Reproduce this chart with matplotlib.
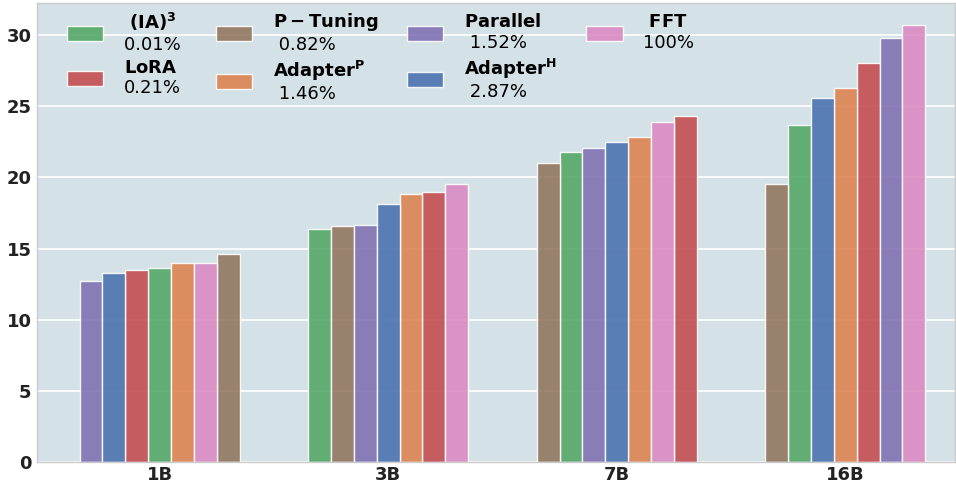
import matplotlib
matplotlib.use('Agg')
import matplotlib.pyplot as plt
import numpy as np

groups = ['1B', '3B', '7B', '16B']

# method name, trainable params, colour
names = [r' $\mathbf{(IA)^3}$', r'$\mathbf{LoRA}$', r'$\mathbf{P-Tuning}$',
         r'$\mathbf{Adapter^P}$', r'$\mathbf{Parallel}$', r'$\mathbf{Adapter^H}$',
         r' $\mathbf{FFT}$']
params = ['0.01% ', '0.21%', ' 0.82%', ' 1.46%', ' 1.52%', ' 2.87%', '100%']
colors = ['#55a868', '#c44e52', '#937860', '#dd8452', '#8172b3', '#4c72b0', '#da8bc3']

ia3 = [13.6, 16.4, 21.8, 23.65]
lora = [13.5, 18.95, 24.3, 28.05]
ptuning = [14.6, 16.6, 21.0, 19.55]
adapter_p = [13.95, 18.85, 22.85, 26.3]
parallel = [12.75, 16.65, 22.05, 29.8]
adapter_h = [13.3, 18.15, 22.45, 25.55]
fft = [13.97, 19.5, 23.9, 30.7]

scores = np.array([ia3, lora, ptuning, adapter_p, parallel, adapter_h, fft])
n_methods = scores.shape[0]
width = 0.1

bg = '#d4e1e6'
fig = plt.figure(figsize=(9.56, 4.84), dpi=100)
ax = fig.add_axes([37 / 956, 22 / 484, 918 / 956, 459 / 484])
ax.set_facecolor(bg)
ax.set_axisbelow(True)
ax.yaxis.grid(True, color='white', linewidth=1.2)

# bars in each group are sorted by score
ranks = np.argsort(np.argsort(scores, axis=0, kind='stable'), axis=0, kind='stable')
x = np.arange(len(groups))
for m in range(n_methods):
    pos = x + (ranks[m] - (n_methods - 1) / 2) * width
    ax.bar(pos, scores[m], width, color=colors[m], alpha=0.9,
           edgecolor='white', linewidth=1, label=names[m] + '\n' + params[m])

ax.set_xlim(-0.536, 3.48)
ax.set_ylim(0, 32.25)
ax.set_xticks(x)
ax.set_xticklabels(groups, fontsize=13, fontweight='bold')
ax.set_yticks([0, 5, 10, 15, 20, 25, 30])
for lab in ax.get_yticklabels():
    lab.set_fontsize(13)
    lab.set_fontweight('bold')
ax.tick_params(axis='y', length=0, pad=4, colors='#222222')
ax.tick_params(axis='x', length=0, pad=3, colors='#222222')
for s in ax.spines.values():
    s.set_color('#cccccc')
    s.set_linewidth(1)

ax.legend(ncol=4, loc='upper left', bbox_to_anchor=(0.024, 1.0), frameon=False,
          fontsize=13, handlelength=2.0, handleheight=0.85, handletextpad=1.15,
          columnspacing=1.62, labelspacing=0.25, borderaxespad=0.05)

fig.savefig('out.png', dpi=100)
